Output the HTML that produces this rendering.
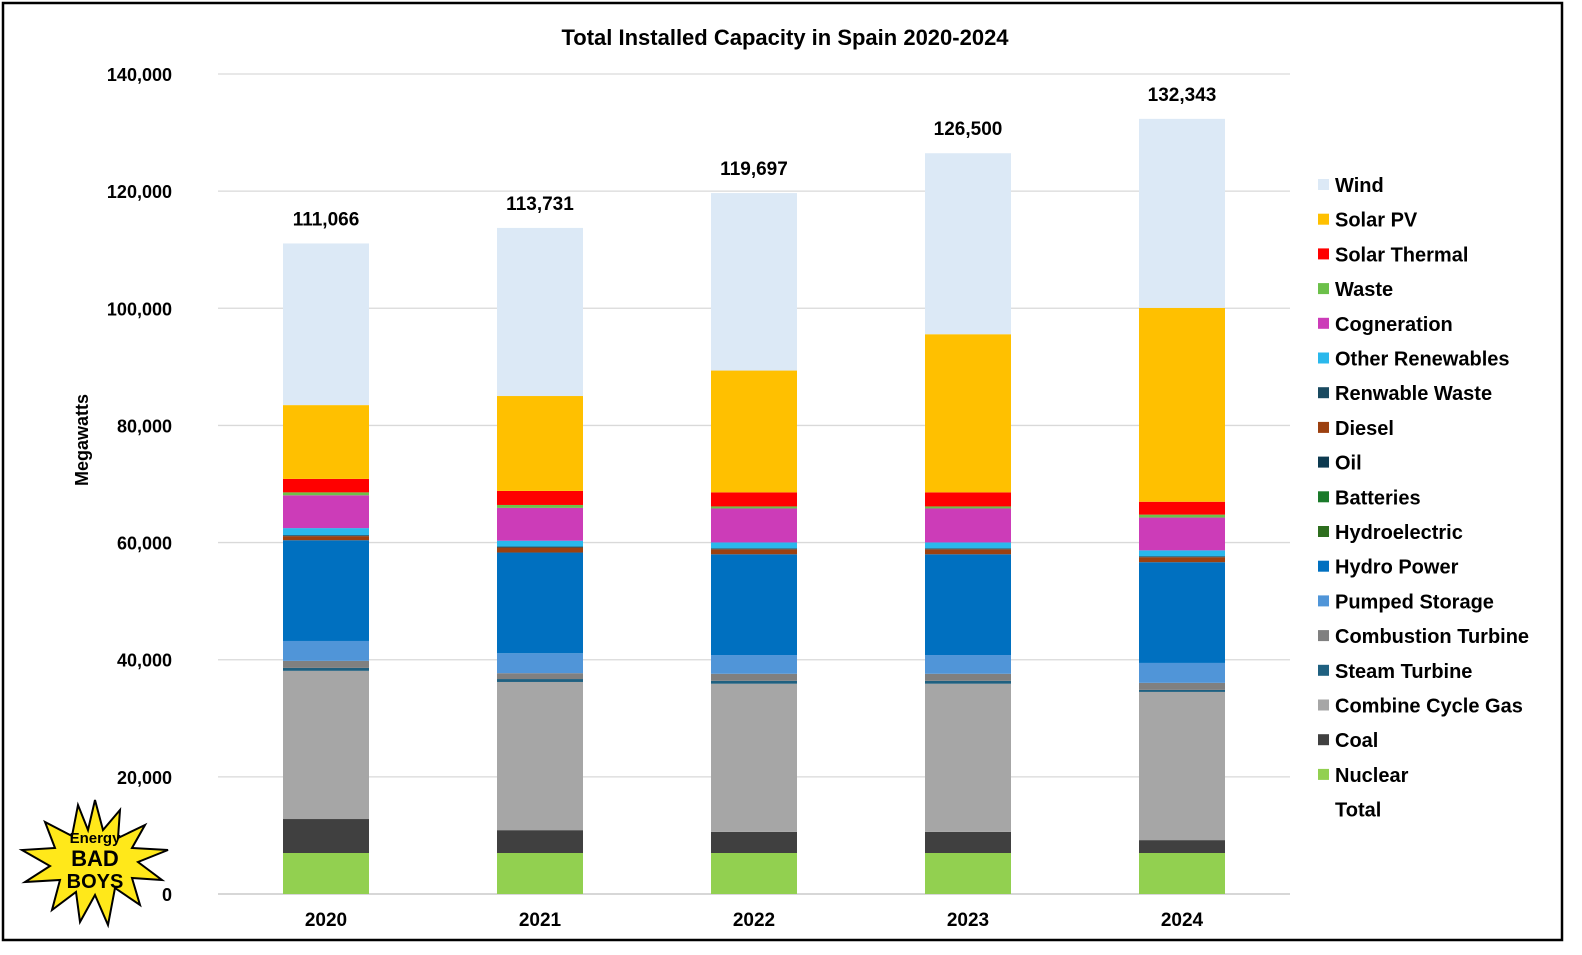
<!DOCTYPE html>
<html><head><meta charset="utf-8"><style>
body{margin:0;background:#fff}
svg{display:block;font-family:"Liberation Sans",Arial,sans-serif;font-weight:bold}
</style></head><body>
<svg id="chart" width="1582" height="955">
<rect x="3" y="3" width="1559" height="937" fill="#fff" stroke="#000" stroke-width="2.5"/>
<text x="785" y="45" text-anchor="middle" font-size="22">Total Installed Capacity in Spain 2020-2024</text>
<text transform="translate(88,440) rotate(-90)" text-anchor="middle" font-size="18">Megawatts</text>
<g id="grid"></g><g id="bars"></g><g id="legend"></g>
<g>
<polygon points="95,800 103,830 120,810 118,838 145,825 132,848 168,850 138,862 162,880 132,878 140,905 115,888 108,925 95,895 80,922 76,892 52,910 60,880 25,882 50,866 22,850 55,848 45,822 72,836 78,805 88,830" fill="#ffe81a" stroke="#000" stroke-width="2"/>
<text x="95" y="843" text-anchor="middle" font-size="15" fill="#000">Energy</text>
<text x="95" y="866" text-anchor="middle" font-size="22" fill="#000">BAD</text>
<text x="95" y="888" text-anchor="middle" font-size="20" fill="#000">BOYS</text>
</g>
</svg>
<script>
const categories=["2020","2021","2022","2023","2024"];
const seriesNames=["Nuclear","Coal","Combine Cycle Gas","Steam Turbine","Combustion Turbine","Pumped Storage","Hydro Power","Hydroelectric","Batteries","Oil","Diesel","Renwable Waste","Other Renewables","Cogneration","Waste","Solar Thermal","Solar PV","Wind"];
const colors=["#92d050","#404040","#a6a6a6","#1f6080","#808080","#5095d8","#0070c0","#2e6e1e","#1a7a2a","#0d3a50","#9c4010","#1a4a60","#2ab8ec","#cc3cb8","#6cc04a","#ff0000","#ffc000","#dce9f6"];
const nuclear=[7.0,7.0,7.0,7.0,7.0];
const coal=[5.8,3.9,3.6,3.6,2.2];
const ccgt=[25.3,25.3,25.3,25.3,25.3];
const steam=[0.5,0.5,0.5,0.5,0.35];
const combustion=[1.2,1.0,1.2,1.2,1.2];
const pumped=[3.4,3.4,3.2,3.2,3.4];
const hydro=[17.2,17.2,17.2,17.2,17.2];
const hydroelectric=[0,0,0,0,0];
const batteries=[0,0,0,0,0];
const oil=[0,0,0,0,0];
const diesel=[0.7,0.85,0.85,0.85,0.85];
const renwWaste=[0.17,0.17,0.17,0.17,0.17];
const otherRen=[1.2,1.0,1.0,1.0,1.0];
const cogen=[5.6,5.6,5.8,5.8,5.6];
const waste=[0.5,0.5,0.35,0.35,0.5];
const solarThermal=[2.3,2.4,2.4,2.4,2.2];
const solarPV=[12.6,16.2,20.8,27.0,33.1];
const wind=[27.6,28.7,30.3,30.9,32.27];
const totals=[111066,113731,119697,126500,132343];
const yTicks=[0,20000,40000,60000,80000,100000,120000,140000];
const legendOrder=["Wind","Solar PV","Solar Thermal","Waste","Cogneration","Other Renewables","Renwable Waste","Diesel","Oil","Batteries","Hydroelectric","Hydro Power","Pumped Storage","Combustion Turbine","Steam Turbine","Combine Cycle Gas","Coal","Nuclear","Total"];
const series=[nuclear,coal,ccgt,steam,combustion,pumped,hydro,hydroelectric,batteries,oil,diesel,renwWaste,otherRen,cogen,waste,solarThermal,solarPV,wind];
const NS="http://www.w3.org/2000/svg";
const y0=894,y1=74,plotL=218,plotR=1290,yMax=140000;
const y=v=>y0-(v/yMax)*(y0-y1);
const xc=i=>326+i*214;const bw=86;
function mk(t,a,p){const e=document.createElementNS(NS,t);for(const k in a)e.setAttribute(k,a[k]);p.appendChild(e);return e;}
const grid=document.getElementById('grid');
yTicks.forEach(t=>{
 const l=mk('line',{x1:plotL,x2:plotR,y1:y(t),y2:y(t),stroke:t===0?'#bfbfbf':'#d9d9d9','stroke-width':1.3},grid);
 
 
 const tx=mk('text',{x:172,y:y(t)+7,'text-anchor':'end','font-size':18},grid);tx.textContent=t.toLocaleString('en-US');
 
 
});
const bars=document.getElementById('bars');
categories.forEach((c,i)=>{
 let cum=0;
 series.forEach((s,k)=>{
  const v=s[i]*1000;if(v<=0)return;
  const r=mk('rect',{x:xc(i)-bw/2,y:y(cum+v),width:bw,height:y(cum)-y(cum+v),fill:colors[k]},bars);
  
  
  cum+=v;
 });
 const tl=mk('text',{x:xc(i),y:y(totals[i])-18,'text-anchor':'middle','font-size':19},bars);tl.textContent=totals[i].toLocaleString('en-US');
 
 
 const xl=mk('text',{x:xc(i),y:926,'text-anchor':'middle','font-size':19},bars);xl.textContent=c;
 
 
});
const leg=document.getElementById('legend');
legendOrder.forEach((n,j)=>{
 const yy=185+j*34.7;
 const g=mk('g',{},leg);
 
 
 const k=seriesNames.indexOf(n);
 if(k>=0)mk('rect',{x:1318,y:yy-6,width:11,height:11,fill:colors[k]},g);
 const t=mk('text',{x:1335,y:yy+7,'font-size':20},g);t.textContent=n;
});
</script>
</body></html>
